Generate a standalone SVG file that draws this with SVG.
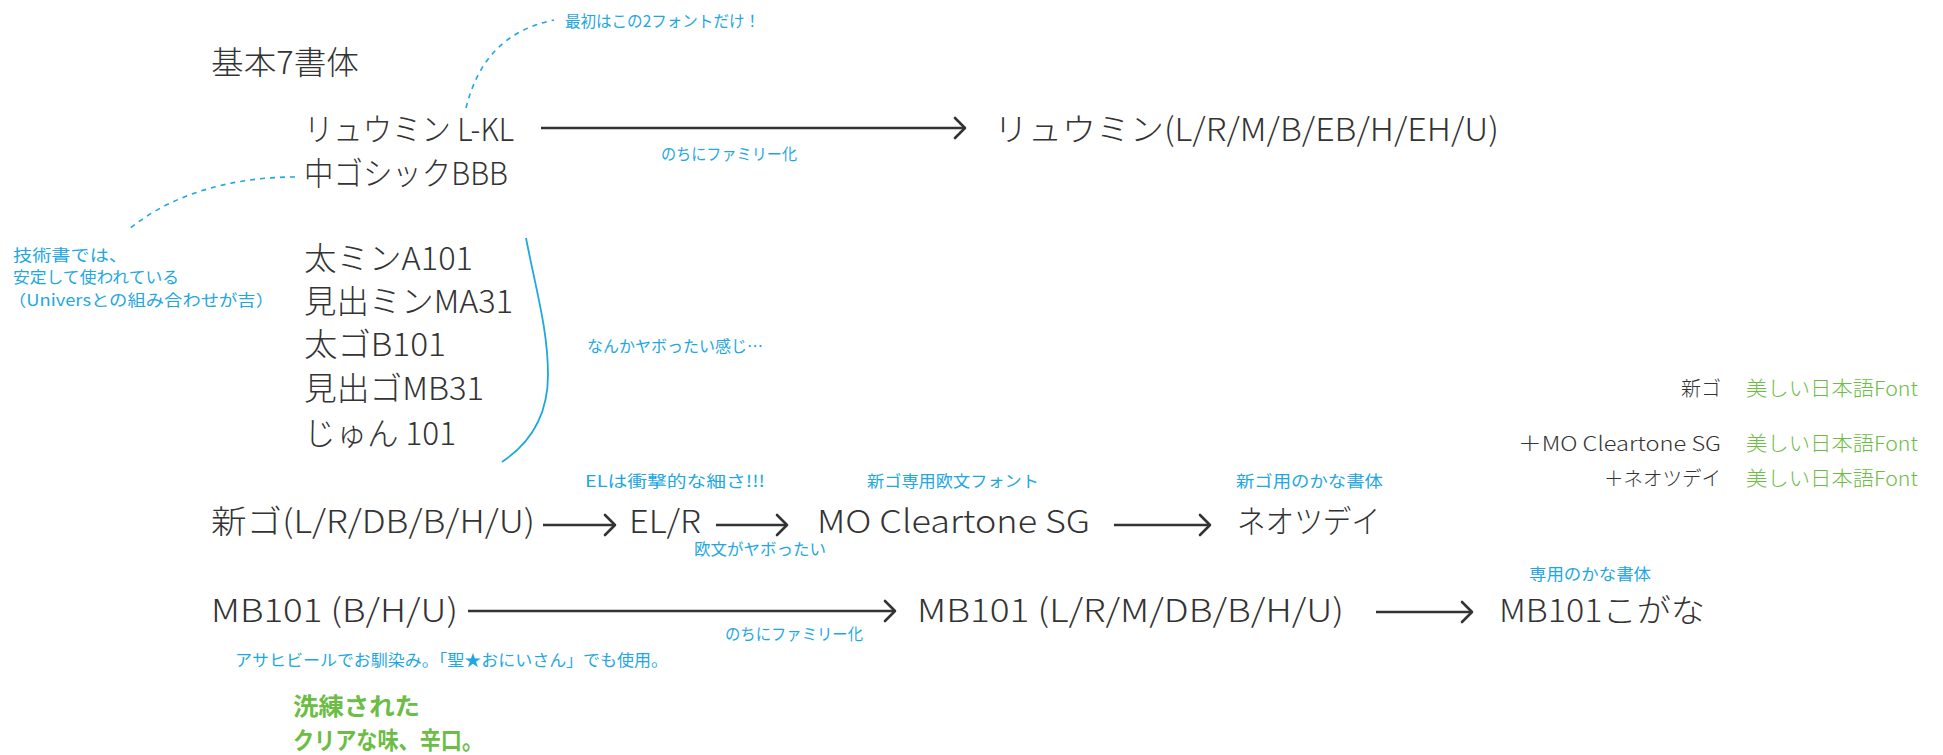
<svg xmlns="http://www.w3.org/2000/svg" width="1943" height="755" viewBox="0 0 1943 755">
<style>
.m{font-family:"Noto Sans CJK JP","Noto Sans",sans-serif;font-weight:300;fill:#333;font-size:32px}
.r{font-family:"Noto Sans CJK JP","Noto Sans",sans-serif;font-weight:300;fill:#333;font-size:20px}
.g{font-family:"Noto Sans CJK JP","Noto Sans",sans-serif;font-weight:300;fill:#6cbd45;font-size:20px}
.gb{font-family:"Noto Sans CJK JP","Noto Sans",sans-serif;font-weight:700;fill:#6cbd45;font-size:24px}
.b{font-family:"Noto Sans CJK JP","Noto Sans",sans-serif;font-weight:400;fill:#1ea7e1;font-size:16px}
.a{stroke:#333;stroke-width:2.6;fill:none}
.d{stroke:#1ea7e1;stroke-width:1.6;fill:none;stroke-dasharray:5 5}
.c{stroke:#1ea7e1;stroke-width:1.8;fill:none}
</style>
<defs>
<marker id="ah" markerUnits="userSpaceOnUse" viewBox="-12 -12 16 24" markerWidth="16" markerHeight="24" refX="0" refY="0" orient="auto">
<polyline points="-10,-10 0,0 -10,10" fill="none" stroke="#333" stroke-width="2.6" stroke-linecap="round" stroke-linejoin="round"/>
</marker>
</defs>
<g id="connectors">
<line class="a" x1="541" y1="128" x2="965" y2="128" marker-end="url(#ah)"/>
<line class="a" x1="543" y1="525" x2="615" y2="525" marker-end="url(#ah)"/>
<line class="a" x1="716" y1="525" x2="787" y2="525" marker-end="url(#ah)"/>
<line class="a" x1="1114" y1="525" x2="1210" y2="525" marker-end="url(#ah)"/>
<line class="a" x1="468" y1="611" x2="895" y2="611" marker-end="url(#ah)"/>
<line class="a" x1="1376" y1="612" x2="1472" y2="612" marker-end="url(#ah)"/>
<path class="d" d="M466,108 C478,60 505,30 554,20"/>
<path class="d" d="M295,177 C230,177 170,195 128,230"/>
<path class="c" d="M526,238 C536,290 548,330 548,375 C548,410 535,440 502,462"/>
</g>
<g id="title"><text class="m" x="211" y="74" textLength="148" lengthAdjust="spacingAndGlyphs">基本7書体</text></g>
<g id="n-ryumin-lkl"><text class="m" x="304" y="141" textLength="210" lengthAdjust="spacingAndGlyphs">リュウミン L-KL</text></g>
<g id="n-nakagothic"><text class="m" x="304" y="185" textLength="204" lengthAdjust="spacingAndGlyphs">中ゴシックBBB</text></g>
<g id="n-ryumin-family"><text class="m" x="994" y="141" textLength="505" lengthAdjust="spacingAndGlyphs">リュウミン(L/R/M/B/EB/H/EH/U)</text></g>
<g id="n-futomin"><text class="m" x="304" y="270" textLength="169" lengthAdjust="spacingAndGlyphs">太ミンA101</text></g>
<g id="n-midashimin"><text class="m" x="304" y="313" textLength="209" lengthAdjust="spacingAndGlyphs">見出ミンMA31</text></g>
<g id="n-futogo"><text class="m" x="304" y="356" textLength="142" lengthAdjust="spacingAndGlyphs">太ゴB101</text></g>
<g id="n-midashigo"><text class="m" x="304" y="400" textLength="180" lengthAdjust="spacingAndGlyphs">見出ゴMB31</text></g>
<g id="n-jun"><text class="m" x="304" y="445" textLength="152" lengthAdjust="spacingAndGlyphs">じゅん 101</text></g>
<g id="n-shingo"><text class="m" x="211" y="533" textLength="324" lengthAdjust="spacingAndGlyphs">新ゴ(L/R/DB/B/H/U)</text></g>
<g id="n-elr"><text class="m" x="629" y="533" textLength="72" lengthAdjust="spacingAndGlyphs">EL/R</text></g>
<g id="n-mocleartone"><text class="m" x="817" y="533" textLength="273" lengthAdjust="spacingAndGlyphs">MO Cleartone SG</text></g>
<g id="n-neotsudei"><text class="m" x="1237" y="533" textLength="143" lengthAdjust="spacingAndGlyphs">ネオツデイ</text></g>
<g id="n-mb101"><text class="m" x="211" y="622" textLength="247" lengthAdjust="spacingAndGlyphs">MB101 (B/H/U)</text></g>
<g id="n-mb101-family"><text class="m" x="917" y="622" textLength="427" lengthAdjust="spacingAndGlyphs">MB101 (L/R/M/DB/B/H/U)</text></g>
<g id="n-mb101kogana"><text class="m" x="1499" y="622" textLength="206" lengthAdjust="spacingAndGlyphs">MB101こがな</text></g>
<g id="notes">
<text class="b" x="565" y="27" textLength="195" lengthAdjust="spacingAndGlyphs">最初はこの2フォントだけ！</text>
<text class="b" x="661" y="160" textLength="136" lengthAdjust="spacingAndGlyphs">のちにファミリー化</text>
<text class="b" x="13" y="261" textLength="115" lengthAdjust="spacingAndGlyphs">技術書では、</text>
<text class="b" x="13" y="283" textLength="166" lengthAdjust="spacingAndGlyphs">安定して使われている</text>
<text class="b" x="8" y="306" textLength="266" lengthAdjust="spacingAndGlyphs">（Universとの組み合わせが吉）</text>
<text class="b" x="587" y="352" textLength="176" lengthAdjust="spacingAndGlyphs">なんかヤボったい感じ…</text>
<text class="b" x="585" y="487" textLength="180" lengthAdjust="spacingAndGlyphs">ELは衝撃的な細さ!!!</text>
<text class="b" x="867" y="487" textLength="172" lengthAdjust="spacingAndGlyphs">新ゴ専用欧文フォント</text>
<text class="b" x="1236" y="487" textLength="147" lengthAdjust="spacingAndGlyphs">新ゴ用のかな書体</text>
<text class="b" x="694" y="555" textLength="132" lengthAdjust="spacingAndGlyphs">欧文がヤボったい</text>
<text class="b" x="725" y="640" textLength="138" lengthAdjust="spacingAndGlyphs">のちにファミリー化</text>
<text class="b" x="1529" y="580" textLength="122" lengthAdjust="spacingAndGlyphs">専用のかな書体</text>
<text class="b" x="235" y="666" textLength="433" lengthAdjust="spacingAndGlyphs">アサヒビールでお馴染み。「聖★おにいさん」でも使用。</text>
</g>
<g id="tagline">
<text class="gb" x="293" y="715" textLength="127" lengthAdjust="spacingAndGlyphs">洗練された</text>
<text class="gb" x="293" y="749" textLength="190" lengthAdjust="spacingAndGlyphs">クリアな味、辛口。</text>
</g>
<g id="samples">
<text class="r" x="1721" y="396" text-anchor="end">新ゴ</text>
<text class="g" x="1746" y="396" textLength="172" lengthAdjust="spacingAndGlyphs">美しい日本語Font</text>
<text class="r" x="1518" y="451" textLength="203" lengthAdjust="spacingAndGlyphs">＋MO Cleartone SG</text>
<text class="g" x="1746" y="451" textLength="172" lengthAdjust="spacingAndGlyphs">美しい日本語Font</text>
<text class="r" x="1604" y="486" textLength="117" lengthAdjust="spacingAndGlyphs">＋ネオツデイ</text>
<text class="g" x="1746" y="486" textLength="172" lengthAdjust="spacingAndGlyphs">美しい日本語Font</text>
</g>
</svg>
